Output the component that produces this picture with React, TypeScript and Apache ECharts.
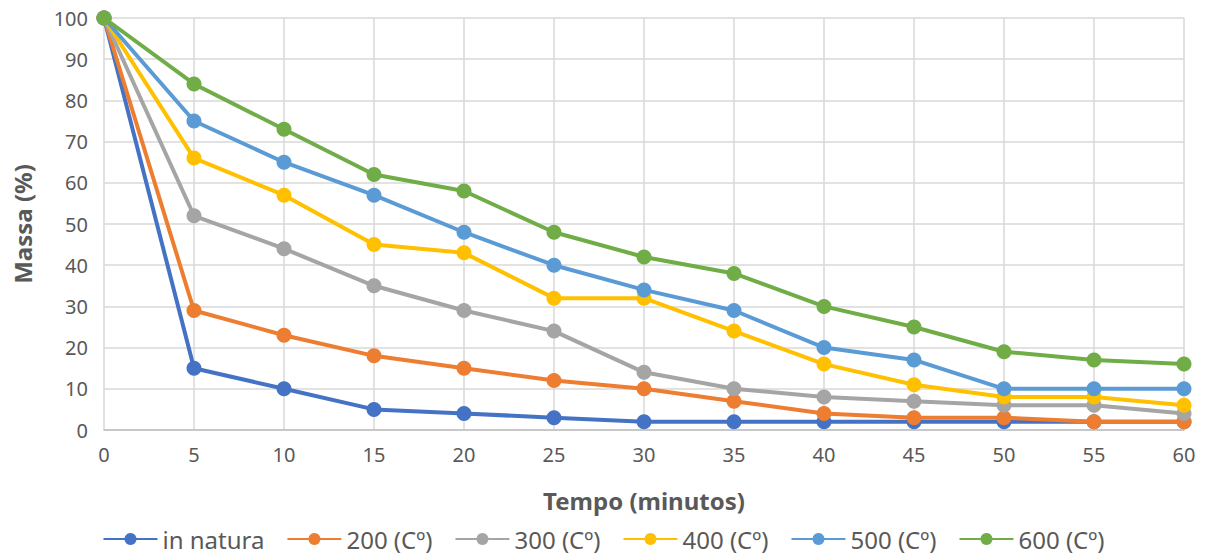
import React, { useEffect, useRef } from "react";
import * as echarts from "echarts";

const minutes = [0, 5, 10, 15, 20, 25, 30, 35, 40, 45, 50, 55, 60];
const inNatura = [100, 15, 10, 5, 4, 3, 2, 2, 2, 2, 2, 2, 2];
const t200 = [100, 29, 23, 18, 15, 12, 10, 7, 4, 3, 3, 2, 2];
const t300 = [100, 52, 44, 35, 29, 24, 14, 10, 8, 7, 6, 6, 4];
const t400 = [100, 66, 57, 45, 43, 32, 32, 24, 16, 11, 8, 8, 6];
const t500 = [100, 75, 65, 57, 48, 40, 34, 29, 20, 17, 10, 10, 10];
const t600 = [100, 84, 73, 62, 58, 48, 42, 38, 30, 25, 19, 17, 16];

const seriesNames = ["in natura", "200 (Cº)", "300 (Cº)", "400 (Cº)", "500 (Cº)", "600 (Cº)"];
const seriesData = [inNatura, t200, t300, t400, t500, t600];
const colors = ["#4472C4", "#ED7D31", "#A5A5A5", "#FFC000", "#5B9BD5", "#70AD47"];

const FONT = "'Noto Sans', sans-serif";

export default function App() {
  const ref = useRef<HTMLDivElement>(null);
  useEffect(() => {
    if (!ref.current) return;
    const chart = echarts.init(ref.current, undefined, { renderer: "svg" });
    chart.setOption({
      animation: false,
      textStyle: { fontFamily: FONT },
      grid: { left: 104, right: 23, top: 18, bottom: 127, containLabel: false },
      legend: {
        top: 524,
        left: "center",
        itemWidth: 54,
        itemHeight: 15,
        itemGap: 22,
        padding: 0,
        textStyle: { fontSize: 24, color: "#595959", fontFamily: FONT, lineHeight: 30 },
        data: seriesNames,
      },
      xAxis: {
        type: "value",
        min: 0,
        max: 60,
        interval: 5,
        name: "Tempo (minutos)",
        nameLocation: "middle",
        nameGap: 58,
        nameTextStyle: { fontSize: 24, fontWeight: "bold", color: "#595959", fontFamily: FONT },
        axisLine: { show: true, lineStyle: { color: "#bfbfbf", width: 1.5 } },
        axisTick: { show: false },
        axisLabel: { fontSize: 20, color: "#595959", margin: 14 },
        splitLine: { show: true, lineStyle: { color: "#d9d9d9", width: 1.5 } },
      },
      yAxis: {
        type: "value",
        min: 0,
        max: 100,
        interval: 10,
        name: "Massa (%)",
        nameLocation: "middle",
        nameGap: 70,
        nameTextStyle: { fontSize: 24, fontWeight: "bold", color: "#595959", fontFamily: FONT },
        axisLine: { show: false },
        axisTick: { show: false },
        axisLabel: { fontSize: 20, color: "#595959", margin: 16 },
        splitLine: { show: true, lineStyle: { color: "#d9d9d9", width: 1.5 } },
      },
      series: seriesNames.map((name, i) => ({
        name,
        type: "line",
        data: minutes.map((m, j) => [m, seriesData[i][j]]),
        symbol: "circle",
        symbolSize: 15,
        lineStyle: { width: 4, color: colors[i] },
        itemStyle: { color: colors[i] },
        z: 2 + i,
      })),
    });
    return () => chart.dispose();
  }, []);
  return (
    <div
      ref={ref}
      style={{ position: "absolute", left: 0, top: 0, width: 1207, height: 557 }}
    />
  );
}
